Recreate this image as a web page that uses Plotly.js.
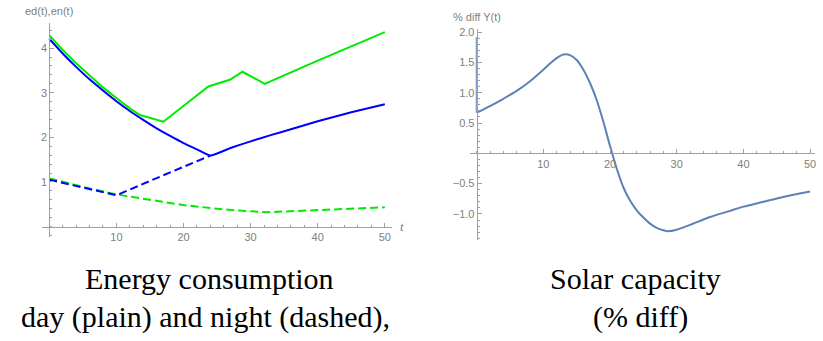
<!DOCTYPE html>
<html>
<head>
<meta charset="utf-8">
<script src="https://cdn.plot.ly/plotly-3.0.1.min.js"></script>
<style>html,body{margin:0;padding:0;background:#fff;}#chart{width:823px;height:341px;}</style>
</head>
<body>
<div id="chart"></div>
<script>
// ---- Left panel: energy consumption ----
const dayBlueT   = [0, 2, 4, 6, 8, 10, 12, 14, 16, 18, 20, 22, 24, 27, 30, 33, 36, 40, 45, 50];
const dayBlueE   = [4.21, 3.88, 3.58, 3.30, 3.05, 2.81, 2.59, 2.39, 2.20, 2.03, 1.87, 1.73, 1.59, 1.76, 1.91, 2.05, 2.18, 2.36, 2.56, 2.74];
const dayGreenT  = [0, 2, 4, 6, 8, 10, 12, 13.5, 17, 23.7, 26.9, 28.8, 32.1, 40, 50];
const dayGreenE  = [4.29, 3.96, 3.66, 3.38, 3.12, 2.88, 2.65, 2.50, 2.35, 3.14, 3.29, 3.47, 3.20, 3.72, 4.36];
const nightBlueT = [0, 5, 10, 17, 24];
const nightBlueE = [1.05, 0.87, 0.70, 1.15, 1.59];
const nightGreenT = [0, 5, 10, 15, 20, 25, 28, 32.4, 36, 40, 45, 50];
const nightGreenE = [1.08, 0.89, 0.72, 0.60, 0.48, 0.40, 0.36, 0.32, 0.34, 0.37, 0.40, 0.43];
const leftXTicks = [10, 20, 30, 40, 50];
const leftYTicks = [1, 2, 3, 4];

// ---- Right panel: solar capacity % diff ----
const solarT = [0, 2, 4, 6, 8, 10, 11, 12, 13, 14, 15, 16, 17, 18, 19, 20, 21, 22, 23, 24, 25, 26, 27, 28, 28.7, 30, 32, 35, 38, 40, 43, 46, 50];
const solarY = [0.67, 0.78, 0.90, 1.03, 1.19, 1.38, 1.48, 1.57, 1.63, 1.62, 1.54, 1.38, 1.16, 0.88, 0.52, 0.12, -0.25, -0.56, -0.78, -0.94, -1.06, -1.16, -1.23, -1.27, -1.285, -1.26, -1.18, -1.05, -0.95, -0.88, -0.80, -0.72, -0.63];
const solarJumpT = [0, 0];
const solarJumpY = [1.92, 0.67];
const rightXTicks = [10, 20, 30, 40, 50];
const rightYTicks = [-1.0, -0.5, 0.5, 1.0, 1.5, 2.0];
const rightYTickText = ['\u22121.0', '\u22120.5', '0.5', '1.0', '1.5', '2.0'];

const W = 823, H = 341;
const axisCol = '#a0a0a0';
const tickFont = {family: 'Liberation Sans, Arial, sans-serif', size: 11, color: '#808080'};

// ranges / domains
const lxr = [-1.13, 51.07], lyr = [-0.235, 4.57];
const lxd = [41.7 / W, 392 / W], lyd = [(H - 237) / H, (H - 22.7) / H];
const rxr = [-1.0, 50.74], ryr = [-1.43, 2.046];
const rxd = [470 / W, 815 / W], ryd = [(H - 240) / H, (H - 29.3) / H];

function zeroPos(range, dom) {
  return dom[0] + (0 - range[0]) / (range[1] - range[0]) * (dom[1] - dom[0]);
}

function xAxis(range, dom, ydom, yrange, ticks) {
  return {
    range: range, domain: dom, anchor: 'free', position: zeroPos(yrange, ydom),
    showline: true, linecolor: axisCol, linewidth: 1,
    showgrid: false, zeroline: false,
    tickmode: 'array', tickvals: ticks, ticks: 'inside', ticklen: 4, tickcolor: axisCol, tickwidth: 1,
    minor: {tickmode: 'linear', tick0: 0, dtick: 2, ticks: 'inside', ticklen: 2, tickcolor: axisCol, showgrid: false},
    tickfont: tickFont, fixedrange: true
  };
}
function yAxis(range, dom, xdom, xrange, ticks, ticktext, minorD) {
  const a = {
    range: range, domain: dom, anchor: 'free', position: zeroPos(xrange, xdom),
    showline: true, linecolor: axisCol, linewidth: 1,
    showgrid: false, zeroline: false,
    tickmode: 'array', tickvals: ticks, ticks: 'inside', ticklen: 4, tickcolor: axisCol, tickwidth: 1,
    minor: {tickmode: 'linear', tick0: 0, dtick: minorD, ticks: 'inside', ticklen: 2, tickcolor: axisCol, showgrid: false},
    tickfont: tickFont, fixedrange: true
  };
  if (ticktext) a.ticktext = ticktext;
  return a;
}

const blue = 'rgb(0,0,255)', green = 'rgb(0,235,0)';
const traces = [
  {x: nightGreenT, y: nightGreenE, xaxis: 'x', yaxis: 'y', mode: 'lines', line: {color: green, width: 2, dash: '8px,4px'}},
  {x: nightBlueT, y: nightBlueE, xaxis: 'x', yaxis: 'y', mode: 'lines', line: {color: blue, width: 2, dash: '8px,4px'}},
  {x: dayBlueT, y: dayBlueE, xaxis: 'x', yaxis: 'y', mode: 'lines', line: {color: blue, width: 2, shape: 'spline', smoothing: 0.4}},
  {x: dayGreenT, y: dayGreenE, xaxis: 'x', yaxis: 'y', mode: 'lines', line: {color: green, width: 2}},
  {x: solarJumpT, y: solarJumpY, xaxis: 'x2', yaxis: 'y2', mode: 'lines', line: {color: 'rgba(94,129,181,0.75)', width: 2}},
  {x: solarT, y: solarY, xaxis: 'x2', yaxis: 'y2', mode: 'lines', line: {color: 'rgb(94,129,181)', width: 2, shape: 'spline', smoothing: 0.8}}
];

const capFont = {family: 'Liberation Serif, Times New Roman, serif', size: 30, color: '#000'};
const labFont = {family: 'Liberation Sans, Arial, sans-serif', size: 11, color: '#808080'};

const layout = {
  width: W, height: H,
  margin: {l: 0, r: 0, t: 0, b: 0},
  paper_bgcolor: '#fff', plot_bgcolor: 'rgba(0,0,0,0)',
  showlegend: false,
  xaxis: xAxis(lxr, lxd, lyd, lyr, leftXTicks),
  yaxis: yAxis(lyr, lyd, lxd, lxr, leftYTicks, null, 0.2),
  xaxis2: xAxis(rxr, rxd, ryd, ryr, rightXTicks),
  yaxis2: yAxis(ryr, ryd, rxd, rxr, rightYTicks, rightYTickText, 0.1),
  annotations: [
    {text: 'ed(t),en(t)', xref: 'x', yref: 'paper', x: 0, y: lyd[1], yanchor: 'bottom', xanchor: 'center', yshift: 4, showarrow: false, font: labFont},
    {text: '<i>t</i>', xref: 'x', yref: 'y', x: lxr[1], y: 0, xanchor: 'left', yanchor: 'middle', xshift: 6, showarrow: false, font: {family: 'Liberation Serif, serif', size: 13, color: '#808080'}},
    {text: '% diff Y(t)', xref: 'x2', yref: 'paper', x: 0, y: ryd[1], yanchor: 'bottom', xanchor: 'center', yshift: 4, showarrow: false, font: labFont},
    {text: 'Energy consumption', xref: 'paper', yref: 'paper', x: 209 / W, y: (H - 278) / H, xanchor: 'center', yanchor: 'middle', showarrow: false, font: capFont},
    {text: 'day (plain) and night (dashed),', xref: 'paper', yref: 'paper', x: 205 / W, y: (H - 317) / H, xanchor: 'center', yanchor: 'middle', showarrow: false, font: capFont},
    {text: 'Solar capacity', xref: 'paper', yref: 'paper', x: 635 / W, y: (H - 278) / H, xanchor: 'center', yanchor: 'middle', showarrow: false, font: capFont},
    {text: '(% diff)', xref: 'paper', yref: 'paper', x: 640 / W, y: (H - 317) / H, xanchor: 'center', yanchor: 'middle', showarrow: false, font: capFont}
  ]
};

Plotly.newPlot('chart', traces, layout, {staticPlot: true, displayModeBar: false});
</script>
</body>
</html>
